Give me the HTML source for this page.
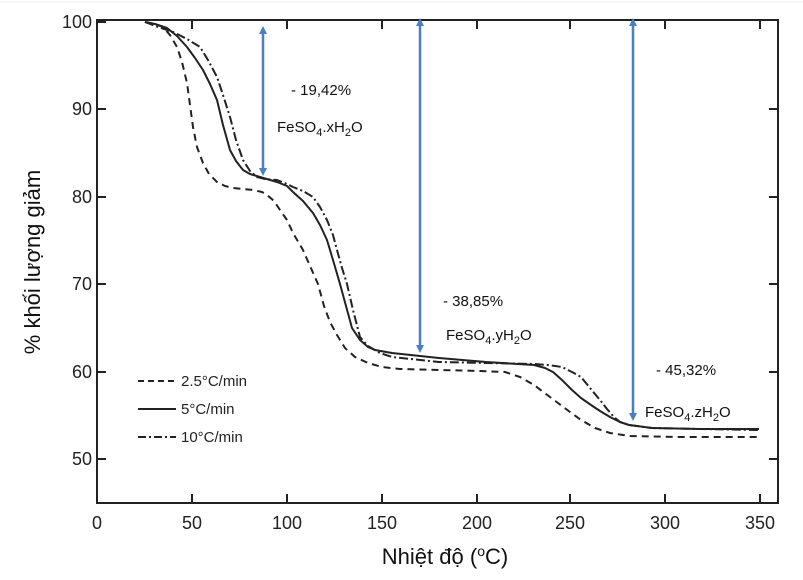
<!DOCTYPE html>
<html><head><meta charset="utf-8"><style>
body{margin:0;background:#fff}
svg{display:block;font-family:"Liberation Sans",sans-serif}
</style></head><body>
<svg width="803" height="580" viewBox="0 0 803 580">
<defs><marker id="ah" markerWidth="8" markerHeight="8" refX="4" refY="4" orient="auto-start-reverse" markerUnits="userSpaceOnUse"><path d="M0,0 L8,4 L0,8 z" fill="#4a7fc1"/></marker></defs>
<line x1="0" y1="2" x2="803" y2="2" stroke="#eee"/>
<rect x="97" y="20" width="681" height="483" fill="none" stroke="#222" stroke-width="2"/>
<g stroke="#222" stroke-width="2">
<line x1="97" y1="22" x2="106" y2="22"/><line x1="97" y1="109" x2="106" y2="109"/><line x1="97" y1="197" x2="106" y2="197"/><line x1="97" y1="284" x2="106" y2="284"/><line x1="97" y1="372" x2="106" y2="372"/><line x1="97" y1="459" x2="106" y2="459"/>
<line x1="769" y1="109" x2="778" y2="109"/><line x1="769" y1="197" x2="778" y2="197"/><line x1="769" y1="284" x2="778" y2="284"/><line x1="769" y1="372" x2="778" y2="372"/><line x1="769" y1="459" x2="778" y2="459"/>
<line x1="97" y1="503" x2="97" y2="494"/><line x1="192" y1="503" x2="192" y2="494"/><line x1="287" y1="503" x2="287" y2="494"/><line x1="382" y1="503" x2="382" y2="494"/><line x1="477" y1="503" x2="477" y2="494"/><line x1="570" y1="503" x2="570" y2="494"/><line x1="665" y1="503" x2="665" y2="494"/><line x1="760" y1="503" x2="760" y2="494"/>
<line x1="192" y1="20" x2="192" y2="29"/><line x1="287" y1="20" x2="287" y2="29"/><line x1="382" y1="20" x2="382" y2="29"/><line x1="477" y1="20" x2="477" y2="29"/><line x1="570" y1="20" x2="570" y2="29"/><line x1="665" y1="20" x2="665" y2="29"/><line x1="760" y1="20" x2="760" y2="29"/>
</g>
<g font-size="18" fill="#222" text-anchor="end">
<text x="92" y="28">100</text><text x="92" y="115">90</text><text x="92" y="203">80</text><text x="92" y="290">70</text><text x="92" y="378">60</text><text x="92" y="465">50</text>
</g>
<g font-size="18" fill="#222" text-anchor="middle">
<text x="97" y="529">0</text><text x="192" y="529">50</text><text x="287" y="529">100</text><text x="382" y="529">150</text><text x="477" y="529">200</text><text x="570" y="529">250</text><text x="665" y="529">300</text><text x="760" y="529">350</text>
</g>
<text x="445" y="564" font-size="22" text-anchor="middle" fill="#111">Nhiệt độ (<tspan font-size="14" dy="-8">o</tspan><tspan dy="8">C)</tspan></text>
<text transform="translate(40,262) rotate(-90)" font-size="22" text-anchor="middle" fill="#111">% khối lượng giảm</text>
<g fill="none" stroke="#222" stroke-width="2" stroke-linejoin="round">
<polyline stroke-dasharray="7,5" points="145,22 155,24 163,27 170,35 177,47 182,62 187,83 190,105 193,127 197,147 203,163 209,174 217,182 225,186 233,188 253,190 262,192 267,195 274,201 280,210 287,220 293,233 303,250 310,266 318,284 324,306 330,322 337,335 345,348 355,357 368,363 382,367 400,369 440,370 480,371 505,372 520,377 534,385 546,394 558,403 570,412 581,420 595,428 610,433 630,436 680,437 759,437"/>
<polyline points="145,22 155,24 167,28 177,36 187,47 195,58 203,70 210,84 217,100 223,125 230,150 236,161 243,170 250,174 260,177 277,182 287,186 293,192 303,201 313,213 320,225 327,240 333,260 340,284 346,306 352,328 360,340 368,347 375,350 392,353 439,358 486,362 534,365 545,368 553,372 562,380 572,390 581,398 591,405 600,411 610,417 620,422 629,425 652,428 700,429 759,429"/>
<polyline stroke-dasharray="9,3,2,3" points="145,22 158,27 173,32 187,39 200,47 208,60 217,77 223,95 230,117 236,140 243,160 250,171 257,177 265,179 277,180 287,184 293,187 303,191 313,197 320,207 327,220 333,235 337,250 342,268 347,284 353,310 360,337 368,346 380,353 392,357 439,362 486,363 534,364 548,365 562,367 572,372 581,377 590,388 600,400 607,409 614,417 620,422 629,425 652,428 700,429 759,430"/>
</g>
<g stroke="#4a7fc1" stroke-width="2.5" marker-start="url(#ah)" marker-end="url(#ah)">
<line x1="263" y1="30" x2="263" y2="172"/>
<line x1="420" y1="22" x2="420" y2="349"/>
<line x1="633" y1="22" x2="633" y2="417"/>
</g>
<g font-size="15" fill="#111">
<text x="291" y="95">- 19,42%</text>
<text x="277" y="132">FeSO<tspan font-size="11" dy="4">4</tspan><tspan dy="-4">.xH</tspan><tspan font-size="11" dy="4">2</tspan><tspan dy="-4">O</tspan></text>
<text x="443" y="306">- 38,85%</text>
<text x="446" y="340">FeSO<tspan font-size="11" dy="4">4</tspan><tspan dy="-4">.yH</tspan><tspan font-size="11" dy="4">2</tspan><tspan dy="-4">O</tspan></text>
<text x="656" y="375">- 45,32%</text>
<text x="645" y="417">FeSO<tspan font-size="11" dy="4">4</tspan><tspan dy="-4">.zH</tspan><tspan font-size="11" dy="4">2</tspan><tspan dy="-4">O</tspan></text>
</g>
<g stroke="#222" stroke-width="2" fill="none">
<line x1="138" y1="381" x2="176" y2="381" stroke-dasharray="6,4"/>
<line x1="138" y1="409" x2="176" y2="409"/>
<line x1="138" y1="437" x2="176" y2="437" stroke-dasharray="8,3,2,3"/>
</g>
<g font-size="15" fill="#222">
<text x="181" y="386">2.5°C/min</text><text x="181" y="414">5°C/min</text><text x="181" y="442">10°C/min</text>
</g>
</svg>
</body></html>
